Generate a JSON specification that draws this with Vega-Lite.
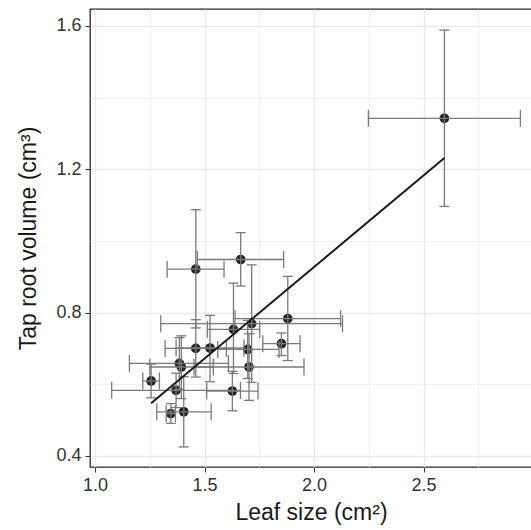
{
  "$schema": "https://vega.github.io/schema/vega-lite/v6.json",
  "width": 442,
  "height": 458,
  "autosize": {"type": "none"},
  "padding": {"left": 90, "top": 9, "right": 0, "bottom": 63},
  "config": {
    "view": {"stroke": "#262626", "strokeWidth": 1.3},
    "font": "Liberation Sans"
  },
  "data": {
    "values": [
      {"x": 2.595, "xlo": 2.248, "xhi": 2.942, "y": 1.342, "ylo": 1.096, "yhi": 1.588},
      {"x": 1.460, "xlo": 1.329, "xhi": 1.589, "y": 0.921, "ylo": 0.757, "yhi": 1.087},
      {"x": 1.665, "xlo": 1.467, "xhi": 1.861, "y": 0.948, "ylo": 0.874, "yhi": 1.023},
      {"x": 1.880, "xlo": 1.639, "xhi": 2.121, "y": 0.783, "ylo": 0.666, "yhi": 0.901},
      {"x": 1.715, "xlo": 1.300, "xhi": 2.130, "y": 0.769, "ylo": 0.605, "yhi": 0.933},
      {"x": 1.632, "xlo": 1.513, "xhi": 1.752, "y": 0.753, "ylo": 0.630, "yhi": 0.882},
      {"x": 1.851, "xlo": 1.766, "xhi": 1.936, "y": 0.713, "ylo": 0.680, "yhi": 0.743},
      {"x": 1.460, "xlo": 1.320, "xhi": 1.600, "y": 0.700, "ylo": 0.620, "yhi": 0.780},
      {"x": 1.525, "xlo": 1.370, "xhi": 1.680, "y": 0.701, "ylo": 0.607, "yhi": 0.792},
      {"x": 1.697, "xlo": 1.560, "xhi": 1.840, "y": 0.697, "ylo": 0.616, "yhi": 0.778},
      {"x": 1.385, "xlo": 1.157, "xhi": 1.609, "y": 0.658, "ylo": 0.586, "yhi": 0.730},
      {"x": 1.394, "xlo": 1.250, "xhi": 1.540, "y": 0.648, "ylo": 0.560, "yhi": 0.735},
      {"x": 1.703, "xlo": 1.452, "xhi": 1.954, "y": 0.648, "ylo": 0.555, "yhi": 0.741},
      {"x": 1.256, "xlo": 1.218, "xhi": 1.294, "y": 0.609, "ylo": 0.562, "yhi": 0.656},
      {"x": 1.370, "xlo": 1.076, "xhi": 1.664, "y": 0.583, "ylo": 0.535, "yhi": 0.631},
      {"x": 1.627, "xlo": 1.510, "xhi": 1.744, "y": 0.581, "ylo": 0.526, "yhi": 0.636},
      {"x": 1.346, "xlo": 1.325, "xhi": 1.367, "y": 0.518, "ylo": 0.491, "yhi": 0.546},
      {"x": 1.405, "xlo": 1.282, "xhi": 1.530, "y": 0.523, "ylo": 0.425, "yhi": 0.621}
    ]
  },
  "layer": [
    {
      "mark": {"type": "point", "filled": true, "size": 95, "color": "#262626", "opacity": 1},
      "encoding": {
        "x": {
          "field": "x", "type": "quantitative", "title": "Leaf size (cm²)",
          "scale": {"domain": [0.977, 2.995], "nice": false, "zero": false},
          "axis": {
            "values": [1, 1.25, 1.5, 1.75, 2, 2.25, 2.5, 2.75],
            "format": ".1f",
            "labelExpr": "abs(datum.value*2-round(datum.value*2))>0.01 ? '' : datum.label",
            "domain": false,
            "gridColor": "#ebebeb",
            "gridWidth": {"condition": {"test": "abs(datum.value*2-round(datum.value*2))>0.01", "value": 0.8}, "value": 1.5},
            "tickOpacity": {"condition": {"test": "abs(datum.value*2-round(datum.value*2))>0.01", "value": 0}, "value": 1},
            "tickSize": 5, "tickColor": "#333333", "tickWidth": 1.1,
            "labelFontSize": 18, "labelColor": "#333333", "labelPadding": 4,
            "titleFontSize": 23, "titleFontWeight": "normal", "titleColor": "#1a1a1a", "titlePadding": 7
          }
        },
        "y": {
          "field": "y", "type": "quantitative", "title": "Tap root volume (cm³)",
          "scale": {"domain": [0.369, 1.647], "nice": false, "zero": false},
          "axis": {
            "values": [0.4, 0.6, 0.8, 1.0, 1.2, 1.4, 1.6],
            "format": ".1f",
            "labelExpr": "abs(datum.value/0.4-round(datum.value/0.4))>0.01 ? '' : datum.label",
            "domain": false,
            "gridColor": "#ebebeb",
            "gridWidth": {"condition": {"test": "abs(datum.value/0.4-round(datum.value/0.4))>0.01", "value": 0.8}, "value": 1.5},
            "tickOpacity": {"condition": {"test": "abs(datum.value/0.4-round(datum.value/0.4))>0.01", "value": 0}, "value": 1},
            "tickSize": 5, "tickColor": "#333333", "tickWidth": 1.1,
            "labelFontSize": 18, "labelColor": "#333333", "labelPadding": 4,
            "titleFontSize": 23, "titleFontWeight": "normal", "titleColor": "#1a1a1a", "titlePadding": 15
          }
        }
      }
    },
    {
      "mark": {"type": "rule", "color": "#7a7a7a", "strokeWidth": 1.3},
      "encoding": {
        "x": {"field": "xlo", "type": "quantitative"},
        "x2": {"field": "xhi"},
        "y": {"field": "y", "type": "quantitative"}
      }
    },
    {
      "mark": {"type": "rule", "color": "#7a7a7a", "strokeWidth": 1.3},
      "encoding": {
        "x": {"field": "x", "type": "quantitative"},
        "y": {"field": "ylo", "type": "quantitative"},
        "y2": {"field": "yhi"}
      }
    },
    {
      "mark": {"type": "tick", "orient": "vertical", "size": 17, "thickness": 1.3, "color": "#7a7a7a", "opacity": 1},
      "encoding": {
        "x": {"field": "xlo", "type": "quantitative"},
        "y": {"field": "y", "type": "quantitative"}
      }
    },
    {
      "mark": {"type": "tick", "orient": "vertical", "size": 17, "thickness": 1.3, "color": "#7a7a7a", "opacity": 1},
      "encoding": {
        "x": {"field": "xhi", "type": "quantitative"},
        "y": {"field": "y", "type": "quantitative"}
      }
    },
    {
      "mark": {"type": "tick", "orient": "horizontal", "size": 10, "thickness": 1.3, "color": "#7a7a7a", "opacity": 1},
      "encoding": {
        "x": {"field": "x", "type": "quantitative"},
        "y": {"field": "ylo", "type": "quantitative"}
      }
    },
    {
      "mark": {"type": "tick", "orient": "horizontal", "size": 10, "thickness": 1.3, "color": "#7a7a7a", "opacity": 1},
      "encoding": {
        "x": {"field": "x", "type": "quantitative"},
        "y": {"field": "yhi", "type": "quantitative"}
      }
    },
    {
      "transform": [{"regression": "y", "on": "x"}],
      "mark": {"type": "line", "color": "#1a1a1a", "strokeWidth": 2},
      "encoding": {
        "x": {"field": "x", "type": "quantitative"},
        "y": {"field": "y", "type": "quantitative"}
      }
    }
  ]
}
